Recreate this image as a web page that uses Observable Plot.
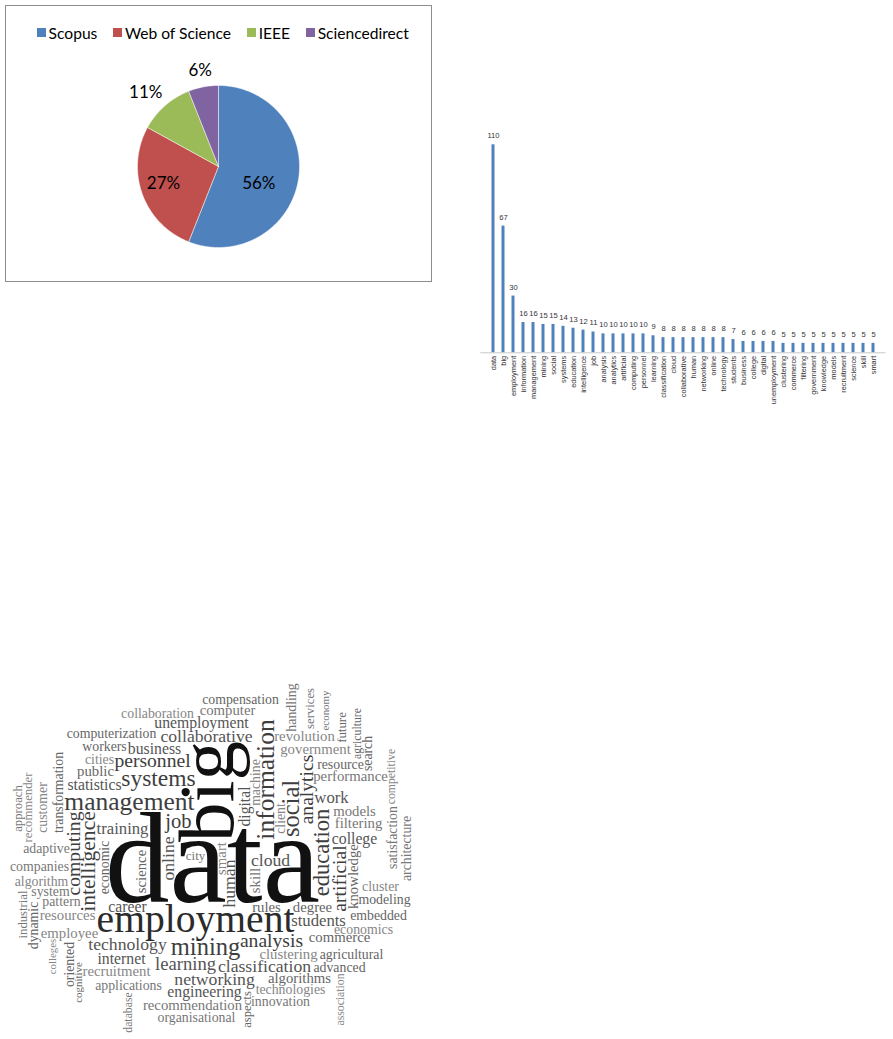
<!DOCTYPE html>
<html>
<head>
<meta charset="utf-8">
<script src="https://cdn.jsdelivr.net/npm/d3@7"></script>
<script src="https://cdn.jsdelivr.net/npm/@observablehq/plot@0.6"></script>
<style>
  html, body { margin: 0; padding: 0; background: #fff; }
  body { width: 893px; height: 1039px; position: relative; overflow: hidden; font-family: Lato, "Open Sans", sans-serif; }
  .panel { position: absolute; }
  #pie { left: 5px; top: 5px; width: 427px; height: 277px; border: 1px solid #8c8c8c; box-sizing: border-box; }
  #pie .plotwrap { position: absolute; left: 0; top: 0; }
  #pie .legendwrap { position: absolute; left: 12px; top: 10px; width: 425px; }
  #pie .legendwrap svg { margin-right: 3px !important; }
  #bars { left: 470px; top: 120px; width: 420px; height: 300px; }
  #cloud { left: 8px; top: 675px; width: 410px; height: 362px; }
</style>
</head>
<body>
<div id="pie" class="panel"><div class="plotwrap"></div><div class="legendwrap"></div></div>
<div id="bars" class="panel"></div>
<div id="cloud" class="panel"></div>
<script>
// ---------------- DATA ----------------
// Pie: share of retrieved documents by database
const pieSources = ["Scopus", "Web of Science", "IEEE", "Sciencedirect"];
const pieShares = [56, 27, 11, 6];

// Bar chart: keyword frequencies
const barWords = ["data","big","employment","information","management","mining","social","systems","education","intelligence","job","analysis","analytics","artificial","computing","personnel","learning","classification","cloud","collaborative","human","networking","online","technology","students","business","college","digital","unemployment","clustering","commerce","filtering","government","knowledge","models","recruitment","science","skill","smart"];
const barCounts = [110,67,30,16,16,15,15,14,13,12,11,10,10,10,10,10,9,8,8,8,8,8,8,8,7,6,6,6,6,5,5,5,5,5,5,5,5,5,5];

// Word cloud: additional lower-frequency keywords (estimated)
const extraWords = ["computerization","applications","technologies","workers","performance","collaboration","public","recommendation","statistics","algorithms","pattern","training","economic","adaptive","internet","resource","companies","work","degree","city","revolution","agricultural","system","economics","embedded","career","resources","rules","innovation","cities","advanced","computer","employee","modeling","engineering","cluster","compensation","organisational","algorithm","transformation","satisfaction","customer","future","handling","colleges","cognitive","architecture","machine","oriented","economy","recommender","dynamic","approach","competitive","search","industrial","client","agriculture","services","association","aspects","database"];
const extraCounts = [4,4,4,4,5,4,5,5,6,5,4,7,4,4,6,4,4,7,5,3,5,4,4,4,4,6,5,5,4,4,4,5,5,4,6,4,4,4,4,4,4,4,3,4,3,3,4,4,4,3,4,4,4,4,4,4,4,4,4,4,4,4];

// ---------------- STYLES / CONFIG ----------------
const pieColors = ["#4F81BD", "#C0504D", "#9BBB59", "#8064A2"];
const pieLabelAngleShift = [0.21, 0.05, -0.056, 0];   // radians, label placement tweak
const pieLabelRadius = [0.54, 0.71, 1.28, 1.21];      // fraction of pie radius
const barColor = "#4F81BD";
const verticalWords = new Set(["big","information","social","education","computing","intelligence","artificial","analytics","human","knowledge","digital","online","science","skill","smart","machine","oriented","economic","economy","recommender","dynamic","approach","competitive","search","industrial","client","agriculture","services","association","aspects","transformation","satisfaction","customer","future","handling","colleges","cognitive","architecture","database"]);
const cloudFont = "Liberation Serif";

// ---------------- PIE ----------------
{
  const pieData = pieSources.map((s, i) => ({source: s, share: pieShares[i]}));
  const arcs = d3.pie().sort(null).value(d => d.share)(pieData);
  const outline = arcs.flatMap(a => {
    const n = Math.max(4, Math.ceil((a.endAngle - a.startAngle) * 80));
    const pts = [{source: a.data.source, x: 0, y: 0}];
    for (let i = 0; i <= n; i++) {
      const t = a.startAngle + (a.endAngle - a.startAngle) * i / n;
      pts.push({source: a.data.source, x: Math.sin(t), y: Math.cos(t)});
    }
    pts.push({source: a.data.source, x: 0, y: 0});
    return pts;
  });
  const labels = arcs.map((a, i) => {
    const m = (a.startAngle + a.endAngle) / 2 + pieLabelAngleShift[i];
    const k = pieLabelRadius[i];
    return {label: a.data.share + "%", x: Math.sin(m) * k, y: Math.cos(m) * k};
  });
  const W = 425, H = 275, cx = 212, cy = 160, r = 81;
  const plot = Plot.plot({
    width: W, height: H,
    marginLeft: cx - r, marginRight: W - cx - r,
    marginTop: cy - r, marginBottom: H - cy - r,
    x: {domain: [-1, 1], axis: null},
    y: {domain: [-1, 1], axis: null},
    color: {domain: pieSources, range: pieColors},
    style: {fontFamily: "Lato, sans-serif", background: "transparent", overflow: "visible"},
    marks: [
      Plot.line(outline, {x: "x", y: "y", z: "source", fill: "source", stroke: "#ffffff", strokeWidth: 0.8, strokeOpacity: 0.6, curve: "linear"}),
      Plot.text(labels, {x: "x", y: "y", text: "label", fontSize: 17, fill: "#000"})
    ]
  });
  document.querySelector("#pie .plotwrap").append(plot);
  const leg = Plot.legend({color: {domain: pieSources, range: pieColors}, swatchSize: 9});
  leg.style.fontSize = "15.6px";
  leg.style.fontFamily = "Lato, sans-serif";
  leg.style.color = "#000";
  leg.style.justifyContent = "center";
  leg.style.marginLeft = "0";
  document.querySelector("#pie .legendwrap").append(leg);
}

// ---------------- BARS ----------------
{
  const barData = barWords.map((w, i) => ({word: w, count: barCounts[i]}));
  const plot = Plot.plot({
    width: 420, height: 300,
    marginLeft: 10.3, marginRight: 4.5, marginTop: 24.3, marginBottom: 67.7,
    x: {type: "band", domain: barWords, padding: 0, tickRotate: -90, tickSize: 0, tickPadding: 3, label: null},
    y: {domain: [0, 110], axis: null},
    style: {fontFamily: "Liberation Sans, sans-serif", fontSize: "7.4px", color: "#333", background: "transparent", overflow: "visible"},
    marks: [
      Plot.barY(barData, {x: "word", y: "count", fill: barColor, insetLeft: 3.5, insetRight: 3.5}),
      Plot.ruleY([0], {stroke: "#c8c8c8", strokeWidth: 1}),
      Plot.text(barData, {x: "word", y: "count", text: d => String(d.count), dy: -9, fontSize: 7.6, fill: "#333"})
    ]
  });
  document.getElementById("bars").append(plot);
}

// ---------------- WORD CLOUD ----------------
{
  const W = 410, H = 362;
  const words = barWords.map((w, i) => ({text: w, count: barCounts[i]}))
    .concat(extraWords.map((w, i) => ({text: w, count: extraCounts[i]})));
  const greys = ["#666666", "#777777", "#868686"];
  words.forEach((d, i) => {
    d.size = 10 + 0.95 * d.count + 0.0012 * d.count * d.count;
    d.rot = verticalWords.has(d.text);
    d.color = d.count >= 60 ? "#111111" : d.count >= 25 ? "#2b2b2b" : d.count >= 10 ? "#3e3e3e" : d.count >= 6 ? "#555555" : greys[i % 3];
  });
  const order = words.map((d, i) => i).sort((a, b) => words[b].size - words[a].size || a - b);

  const C = 700;
  const canvas = document.createElement("canvas");
  canvas.width = C; canvas.height = C;
  const ctx = canvas.getContext("2d", {willReadFrequently: true});
  function sprite(text, size, rot) {
    ctx.setTransform(1, 0, 0, 1, 0, 0);
    ctx.clearRect(0, 0, C, C);
    ctx.font = `${size}px "${cloudFont}"`;
    const m = ctx.measureText(text);
    const R = Math.ceil(Math.max(m.width / 2 + 4, (m.actualBoundingBoxAscent || size) + 4, (m.actualBoundingBoxDescent || size * 0.3) + 4, m.actualBoundingBoxLeft + 4, m.actualBoundingBoxRight + 4));
    ctx.translate(C / 2, C / 2);
    if (rot) ctx.rotate(-Math.PI / 2);
    ctx.textAlign = "center";
    ctx.textBaseline = "alphabetic";
    ctx.fillStyle = "#000";
    ctx.fillText(text, 0, 0);
    ctx.setTransform(1, 0, 0, 1, 0, 0);
    const x0 = C / 2 - R, y0 = C / 2 - R, S = 2 * R;
    const img = ctx.getImageData(x0, y0, S, S).data;
    const pts = [];
    let bx0 = Infinity, bx1 = -Infinity, by0 = Infinity, by1 = -Infinity;
    for (let y = 0; y < S; y++) for (let x = 0; x < S; x++) {
      if (img[(y * S + x) * 4 + 3] > 40) {
        const dx = x - R, dy = y - R;
        pts.push(dx, dy);
        if (dx < bx0) bx0 = dx; if (dx > bx1) bx1 = dx;
        if (dy < by0) by0 = dy; if (dy > by1) by1 = dy;
      }
    }
    return {pts, bx0, bx1, by0, by1, mx: Math.round((bx0 + bx1) / 2), my: Math.round((by0 + by1) / 2)};
  }
  const grid = new Uint8Array(W * H);
  const cx = W / 2, cy = H / 2, ea = W / 2, eb = H / 2;
  function inEllipse(x, y, lim) {
    const u = (x - cx) / ea, v = (y - cy) / eb;
    return u * u + v * v <= lim;
  }
  function fits(sp, px, py, lim) {
    if (px + sp.bx0 < 1 || px + sp.bx1 > W - 2 || py + sp.by0 < 1 || py + sp.by1 > H - 2) return false;
    if (lim && !(inEllipse(px + sp.bx0, py + sp.by0, lim) && inEllipse(px + sp.bx1, py + sp.by0, lim) && inEllipse(px + sp.bx0, py + sp.by1, lim) && inEllipse(px + sp.bx1, py + sp.by1, lim))) return false;
    const p = sp.pts;
    for (let k = 0; k < p.length; k += 2) {
      if (grid[(py + p[k + 1]) * W + px + p[k]]) return false;
    }
    return true;
  }
  function mark(sp, px, py) {
    const p = sp.pts;
    for (let k = 0; k < p.length; k += 2) {
      const gx = px + p[k], gy = py + p[k + 1];
      for (let oy = -1; oy <= 1; oy++) for (let ox = -1; ox <= 1; ox++) {
        const x = gx + ox, y = gy + oy;
        if (x >= 0 && x < W && y >= 0 && y < H) grid[y * W + x] = 1;
      }
    }
  }
  const e = W / H;
  const placed = [];
  function tryPlace(d, size, lim) {
    const sp = sprite(d.text, size, d.rot);
    for (let s = 0; s < 60000; s++) {
      const t = s * 0.1;
      if (t > Math.max(W, H)) break;
      const px = Math.round(cx + e * t * Math.cos(t)) - sp.mx;
      const py = Math.round(cy - t * Math.sin(t)) - sp.my;
      if (fits(sp, px, py, lim)) {
        mark(sp, px, py);
        placed.push({text: d.text, x: px, y: py, size, rot: d.rot ? -90 : 0, color: d.color});
        return true;
      }
    }
    return false;
  }
  for (const i of order) {
    const d = words[i];
    let ok = false, size = d.size;
    for (let attempt = 0; attempt < 3 && !ok; attempt++) {
      ok = tryPlace(d, size, 1.12);
      size *= 0.92;
    }
    size = d.size * 0.85;
    for (let attempt = 0; attempt < 4 && !ok; attempt++) {
      ok = tryPlace(d, size, 0);
      size *= 0.88;
    }
  }
  const plot = Plot.plot({
    width: W, height: H, margin: 0,
    x: {domain: [0, W], range: [0, W], axis: null},
    y: {domain: [0, H], range: [0, H], axis: null},
    color: {type: "identity"},
    style: {background: "transparent", overflow: "visible"},
    marks: [
      Plot.text(placed, {x: "x", y: "y", text: "text", fontSize: d => d.size, rotate: "rot", fill: "color", lineAnchor: "bottom", textAnchor: "middle", fontFamily: cloudFont})
    ]
  });
  document.getElementById("cloud").append(plot);
}
</script>
</body>
</html>
